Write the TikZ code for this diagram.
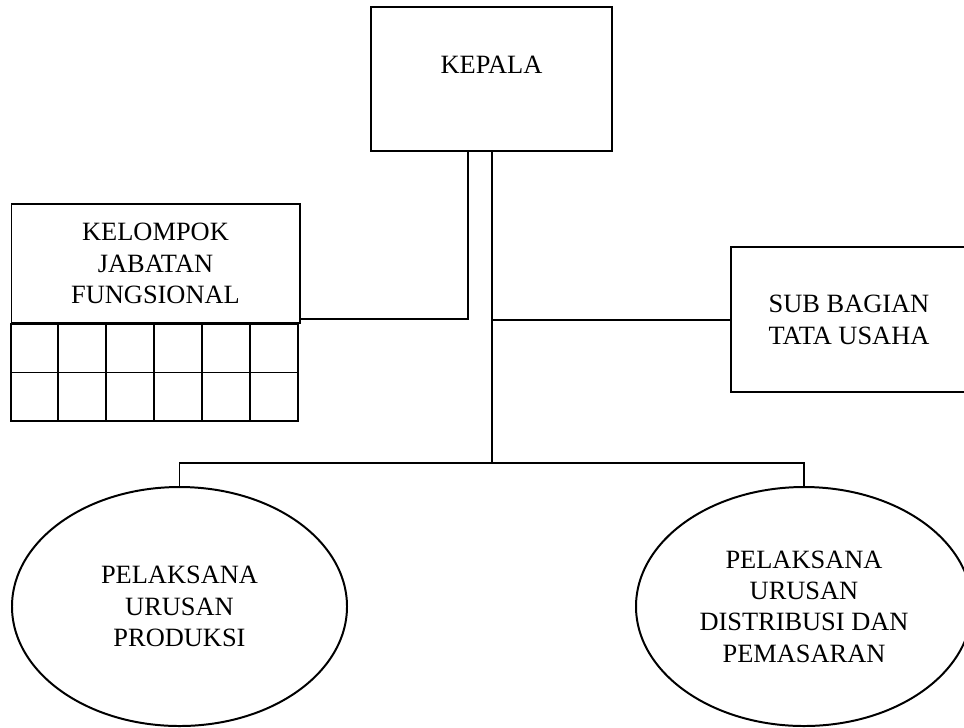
\documentclass[tikz,border=0pt]{standalone}
\usepackage{fontspec}
\setmainfont{Liberation Serif}
\usetikzlibrary{shapes.geometric,positioning}
\newlength{\px}
\setlength{\px}{0.428pt}
\tikzset{
  unitbox/.style={draw,rectangle,align=center,inner sep=0pt,
    font=\fontsize{11.3}{13.6}\selectfont},
  unitoval/.style={draw,ellipse,align=center,inner sep=0pt,
    font=\fontsize{11.3}{13.4}\selectfont}
}
\newcommand{\jfgrid}[3]{
  \foreach \c in {0,...,5}{
    \foreach \r in {0,1}{
      \draw (#1) ++(\c*#2,\r*#3) rectangle +(#2,#3);% one empty cell
    }
  }
}

\begin{document}
\begin{tikzpicture}[x=\px,y=-\px,line width=0.85pt]
      \useasboundingbox (0,0) rectangle (964,727);
      \clip (0,0) rectangle (964,727);

      \node[unitbox,minimum width=241\px,minimum height=144\px,
        label={[yshift=14\px,font=\fontsize{11.3}{13.6}\selectfont]center:KEPALA}]
        (kepala) at (491.5,79) {};
      \node[unitbox,minimum width=288\px,minimum height=119\px]
        (kjf) at (155.5,263.5) {KELOMPOK\\JABATAN\\FUNGSIONAL};
      \jfgrid{kjf.south west}{47.95}{48.5}
      \node[unitbox,minimum width=236\px,minimum height=145\px]
        (sub) at (849,319.5) {SUB BAGIAN\\TATA USAHA};

      \node[unitoval,minimum width=335\px,minimum height=239\px]
        (prod) at (179.5,606.5) {PELAKSANA\\URUSAN\\PRODUKSI};
      \node[unitoval,minimum width=336\px,minimum height=239\px]
        (dist) at (804,606.5) {PELAKSANA\\URUSAN\\DISTRIBUSI DAN\\PEMASARAN};

      % two lines leave the head
      \coordinate (k1) at (467.5,151);
      \coordinate (k2) at (491.5,151);
      \coordinate (bus) at (491.5,463);
      \coordinate (jf) at (kjf.east |- 0,319);

      \draw (k1) |- (jf);
      \draw (k2) -- (bus);
      \draw (k2 |- sub.west) -- (sub.west);
      \draw (prod.north) |- (bus) -| (dist.north);
    \end{tikzpicture}
\end{document}
